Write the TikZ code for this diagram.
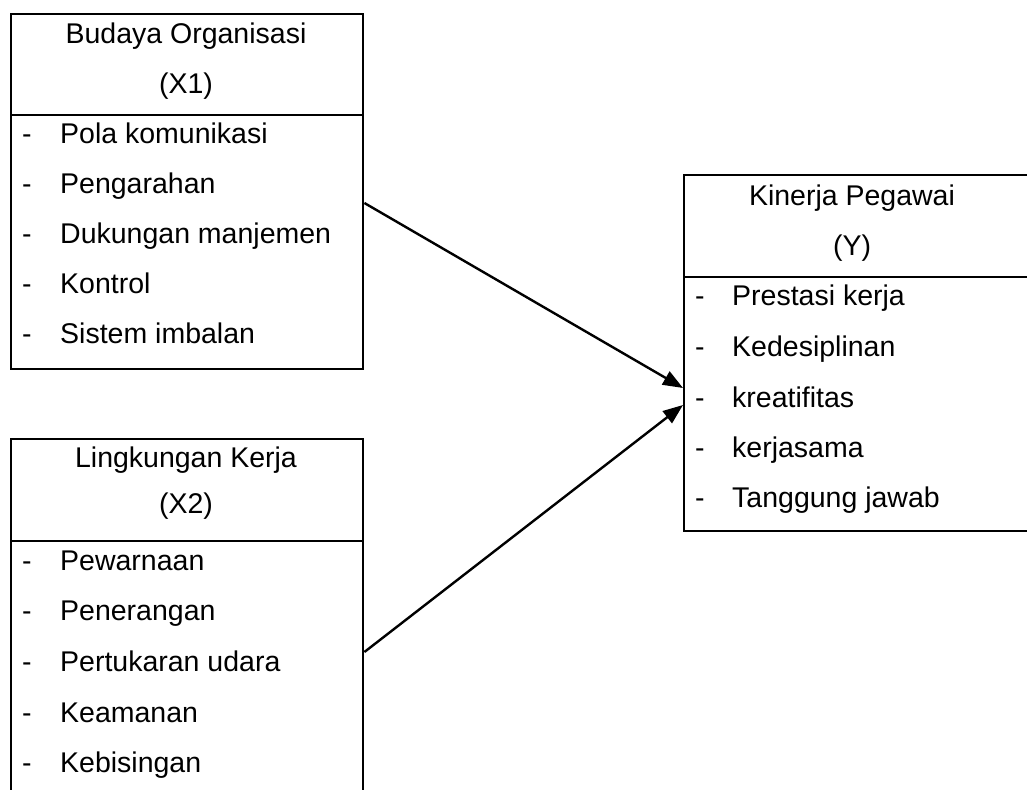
\documentclass[tikz,border=0pt]{standalone}
\usepackage{fontspec}
\setmainfont{Liberation Sans}
\usetikzlibrary{arrows.meta,calc}
\begin{document}
\begin{tikzpicture}[x=1pt,y=-1pt,
  boxline/.style={line width=2.4pt},
  frame/.style={draw,line width=2.4pt,anchor=north west,inner sep=0pt},
  hd/.style={anchor=base,inner sep=0pt,font=\fontsize{28.5}{34}\selectfont},
  item/.style={anchor=base west,inner sep=0pt,font=\fontsize{28.5}{34}\selectfont},
  conn/.style={line width=2.4pt,-{Triangle[length=20pt,width=15pt]}}]
\useasboundingbox (0,0) rectangle (1027,789);
\fill[white] (0,0) rectangle (1027,789);

% Box 1
\node[frame,minimum width=352pt,minimum height=355pt] (b1) at (10,13) {};
\draw[boxline] (b1.west |- 0,115) -- (b1.east |- 0,115);
\node[hd] (h1a) at (186,43.5) {Budaya Organisasi};
\node[hd] (h1b) at (186,93.5) {(X1)};
\foreach \t/\y [count=\i] in {Pola komunikasi/133,Pengarahan/183,Dukungan manjemen/233,Kontrol/283,Sistem imbalan/333}{
  \node[item] (d1\i) at (22,\y+10.5) {-};
  \node[item] (i1\i) at (60,\y+10.5) {\t};
}

% Box 2
\node[frame,minimum width=352pt,minimum height=380pt] (b2) at (10,438) {};
\draw[boxline] (b2.west |- 0,541) -- (b2.east |- 0,541);
\node[hd] (h2a) at (186,467.5) {Lingkungan Kerja};
\node[hd] (h2b) at (186,513.5) {(X2)};
\foreach \t/\y [count=\i] in {Pewarnaan/560,Penerangan/610,Pertukaran udara/661,Keamanan/712,Kebisingan/762}{
  \node[item] (d2\i) at (22,\y+10.5) {-};
  \node[item] (i2\i) at (60,\y+10.5) {\t};
}

% Box 3
\node[frame,minimum width=350pt,minimum height=356pt] (b3) at (683,174) {};
\draw[boxline] (b3.west |- 0,277) -- (b3.east |- 0,277);
\node[hd] (h3a) at (852,205.5) {Kinerja Pegawai};
\node[hd] (h3b) at (852,255.5) {(Y)};
\foreach \t/\y [count=\i] in {Prestasi kerja/295,Kedesiplinan/346,kreatifitas/397,kerjasama/447,Tanggung jawab/497}{
  \node[item] (d3\i) at (695,\y+10.5) {-};
  \node[item] (i3\i) at (732,\y+10.5) {\t};
}

% Connectors
\coordinate (s1) at (b1.east |- 0,203);
\coordinate (s2) at (b2.east |- 0,652);
\coordinate (t1) at (b3.west |- 0,388);
\coordinate (t2) at (b3.west |- 0,405);
\draw[conn] (s1) -- (t1);
\draw[conn] (s2) -- (t2);
\end{tikzpicture}
\end{document}
